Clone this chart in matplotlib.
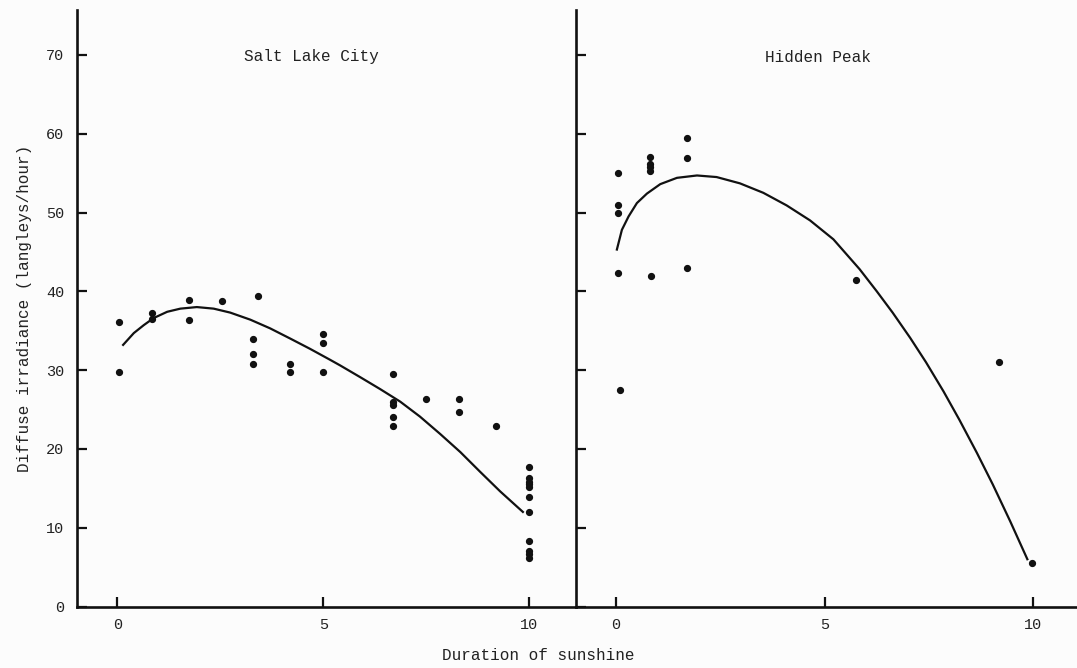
import matplotlib
matplotlib.use("Agg")
import matplotlib.pyplot as plt
from matplotlib.transforms import blended_transform_factory

# Salt Lake City observations (duration of sunshine, diffuse irradiance)
slc_x = [0.05, 0.05, 0.85, 0.85, 1.75, 1.75, 2.55, 3.42, 3.3, 3.3, 3.3,
         4.2, 4.2, 5.0, 5.0, 5.0, 6.7, 6.7, 6.7, 6.7, 6.7, 7.5, 8.3, 8.3, 9.2,
         10.0, 10.0, 10.0, 10.0, 10.0, 10.0, 10.0, 10.0, 10.0, 10.0, 10.0]
slc_y = [36.1, 29.7, 37.2, 36.5, 38.9, 36.4, 38.8, 39.4, 34.0, 32.1, 30.8,
         30.8, 29.7, 34.6, 33.4, 29.7, 29.5, 26.0, 25.6, 24.0, 22.9, 26.3, 26.3, 24.7, 22.9,
         17.7, 16.3, 15.8, 15.5, 15.2, 13.9, 12.0, 8.3, 7.0, 6.6, 6.1]

# fitted curve
slc_fit_x = [0.14, 0.40, 0.64, 0.88, 1.21, 1.53, 1.93, 2.34, 2.74, 3.23,
             3.71, 4.20, 4.68, 5.17, 5.41, 5.90, 6.38, 6.87, 7.35, 7.84,
             8.33, 8.81, 9.30, 9.85]
slc_fit_y = [33.2, 34.7, 35.7, 36.6, 37.4, 37.8, 38.0, 37.8, 37.3, 36.4,
             35.3, 34.0, 32.7, 31.3, 30.6, 29.1, 27.6, 26.0, 24.1, 21.9,
             19.6, 17.1, 14.6, 12.0]

# Hidden Peak observations
hp_x = [0.05, 0.05, 0.05, 0.05, 0.1, 0.82, 0.82, 0.82, 0.82, 0.84,
        1.70, 1.70, 1.70, 5.75, 9.18, 9.97]
hp_y = [55.0, 50.9, 49.9, 42.3, 27.5, 57.0, 56.2, 55.8, 55.3, 41.9,
        59.4, 56.9, 43.0, 41.4, 31.0, 5.5]

hp_fit_x = [0.02, 0.14, 0.30, 0.50, 0.74, 1.06, 1.46, 1.94, 2.41, 2.97,
            3.53, 4.09, 4.65, 5.21, 5.84, 6.25, 6.63, 7.05, 7.43, 7.85,
            8.23, 8.65, 9.03, 9.45, 9.86]
hp_fit_y = [45.3, 47.8, 49.5, 51.2, 52.4, 53.6, 54.4, 54.7, 54.5, 53.7,
            52.5, 50.9, 49.0, 46.6, 42.8, 40.0, 37.3, 34.1, 31.0, 27.3,
            23.7, 19.5, 15.5, 10.8, 6.0]

y_ticks = [0, 10, 20, 30, 40, 50, 60, 70]
x_ticks = [0, 5, 10]

plt.rcParams["font.family"] = "Liberation Mono"

fig = plt.figure(figsize=(10.77, 6.68), dpi=100)
fig.patch.set_facecolor("#fcfcfc")

bottom = 1 - 606.5 / 668
height = (606.5 - 10) / 668
ax1 = fig.add_axes([77 / 1077, bottom, (576 - 77) / 1077, height])
ax2 = fig.add_axes([576 / 1077, bottom, (1077 - 576) / 1077, height])

panels = [
    (ax1, slc_x, slc_y, slc_fit_x, slc_fit_y, "Salt Lake City", (-0.98, 11.14), 4.71),
    (ax2, hp_x, hp_y, hp_fit_x, hp_fit_y, "Hidden Peak", (-0.96, 11.05), 4.84),
]

for ax, px, py, fx, fy, name, xlim, title_x in panels:
    ax.set_facecolor("#fcfcfc")
    ax.plot(px, py, "o", color="#111111", markersize=4.2, zorder=3)
    ax.plot(fx, fy, "-", color="#111111", linewidth=1.6, zorder=2,
            solid_joinstyle="round")
    ax.set_xlim(*xlim)
    ax.set_ylim(0, 75.7)
    ax.set_xticks(x_ticks)
    ax.set_yticks(y_ticks)
    for s in ["top", "right"]:
        ax.spines[s].set_visible(False)
    for s in ["left", "bottom"]:
        ax.spines[s].set_linewidth(1.9)
        ax.spines[s].set_color("#111111")
    ax.tick_params(direction="in", length=7, width=1.6, color="#111111",
                   labelsize=11, labelcolor="#222222")
    ax.tick_params(axis="x", pad=8)
    ax.tick_params(axis="y", pad=9)
    trans = blended_transform_factory(ax.transData, ax.transAxes)
    ax.text(title_x, (606.5 - 57) / (606.5 - 10), name, transform=trans,
            ha="center", va="center", fontsize=11.5, color="#222222")

ax2.tick_params(axis="y", labelleft=False)

ax1.set_ylabel("Diffuse irradiance (langleys/hour)", fontsize=11.5,
               color="#222222", labelpad=10)
fig.text(0.5, 1 - 656 / 668, "Duration of sunshine", ha="center", va="center",
         fontsize=11.5, color="#222222")

fig.savefig("out.png", dpi=100, facecolor=fig.get_facecolor())
